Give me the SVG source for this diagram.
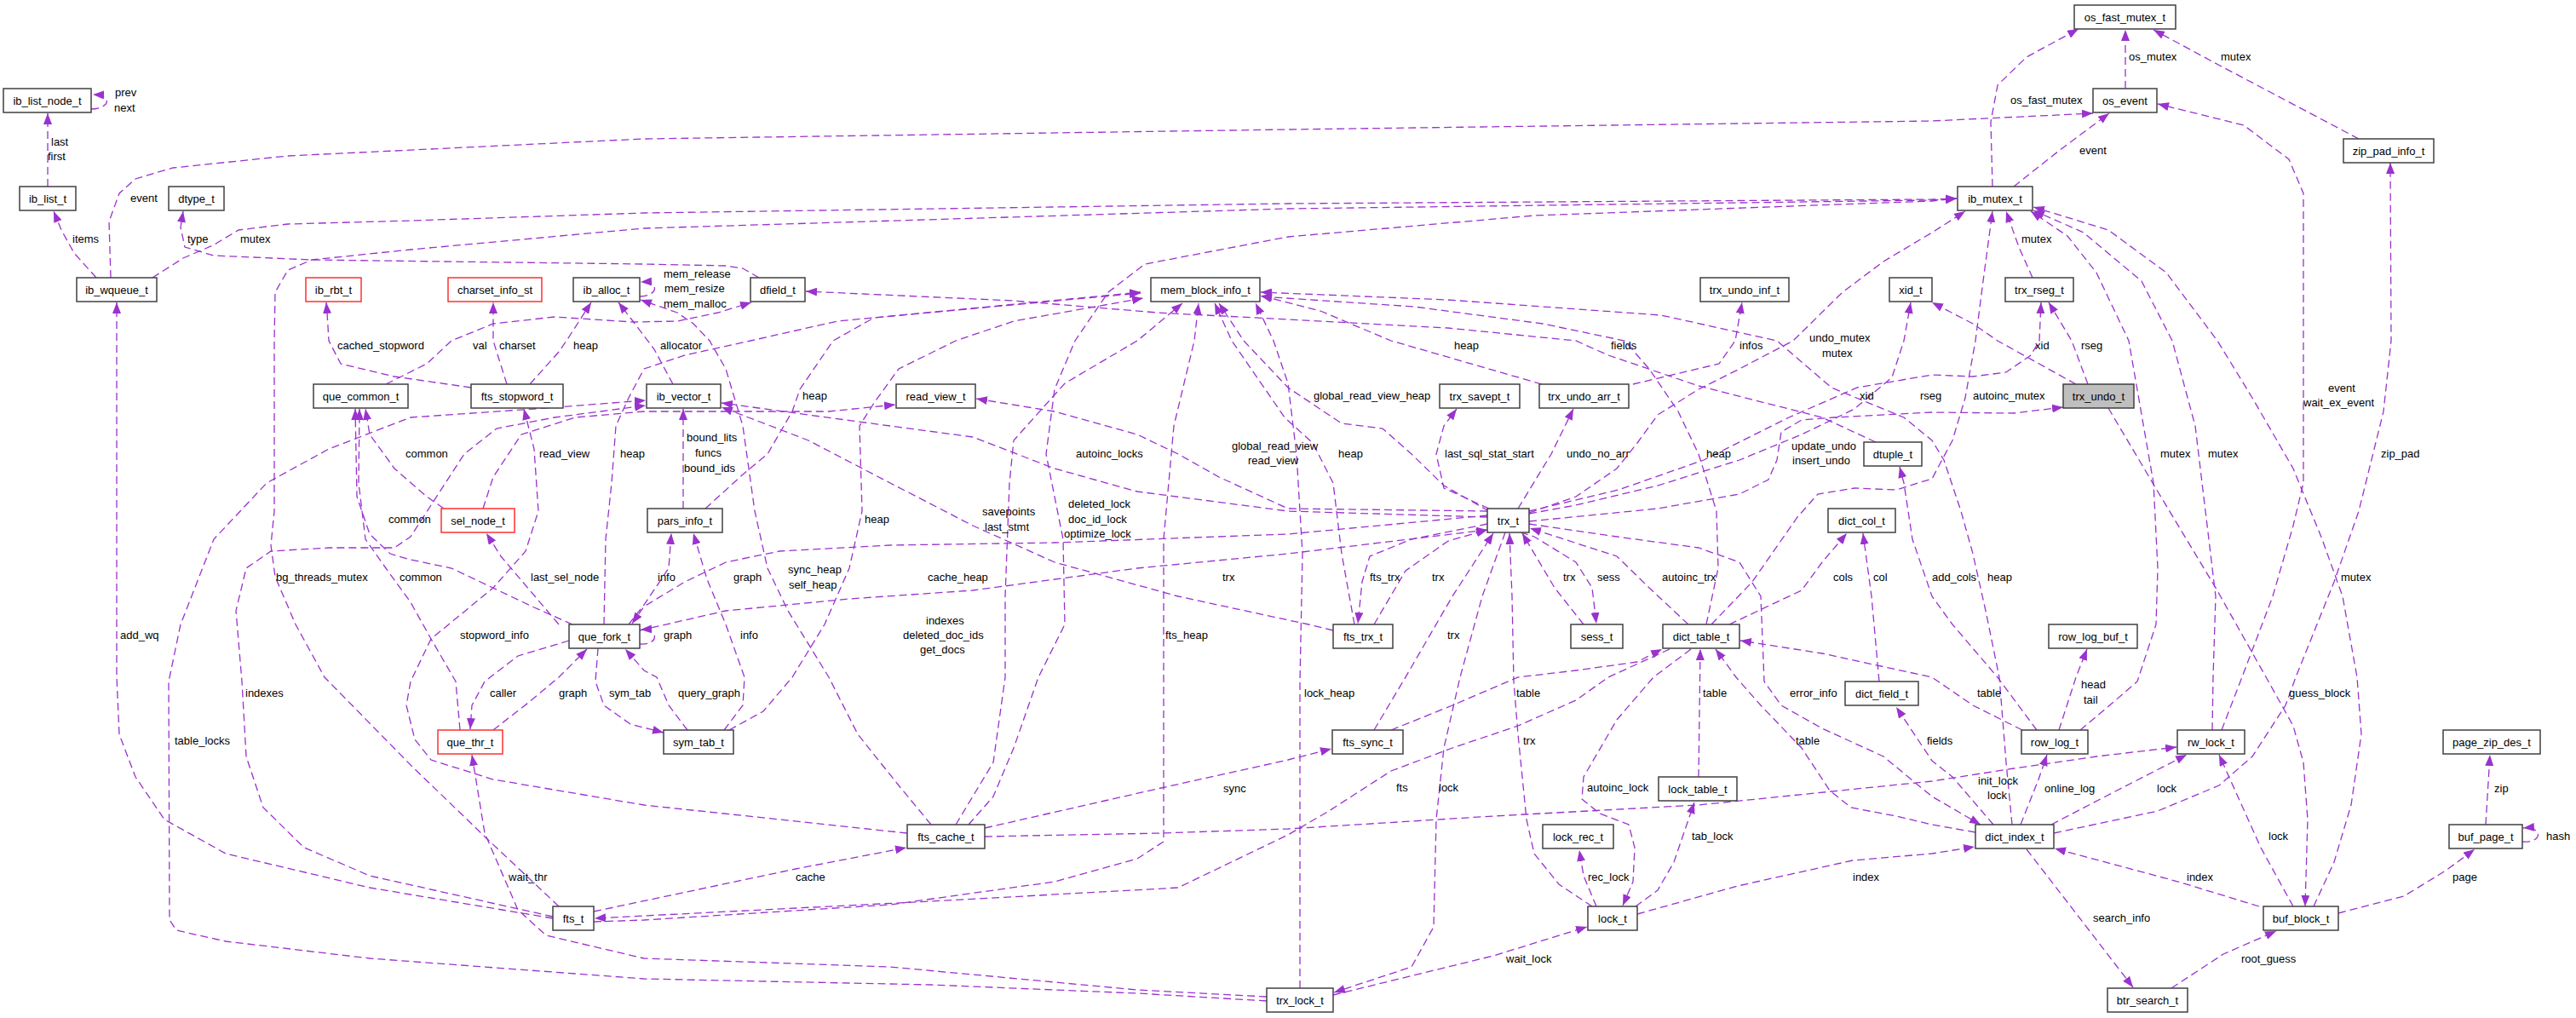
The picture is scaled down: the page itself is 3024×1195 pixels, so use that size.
<svg xmlns="http://www.w3.org/2000/svg" width="3024" height="1195" viewBox="0 0 3024 1195">
<style>
.n rect{fill:#fff;stroke:#404040;stroke-width:1.5}
.r rect{stroke:#ff3030}
.g rect{fill:#bfbfbf}
text{font-family:"Liberation Sans",Arial,sans-serif;font-size:13px;fill:#000}
.n text{text-anchor:middle}
.e{fill:none;stroke:#9a32cd;stroke-width:1.3;stroke-dasharray:9,5;marker-end:url(#a)}
</style>
<defs>
<marker id="a" markerUnits="userSpaceOnUse" markerWidth="14" markerHeight="10" refX="13" refY="5" orient="auto"><path d="M0,0 L13,5 L0,10 z" fill="#9a32cd"/></marker>
</defs>
<rect width="3024" height="1195" fill="#fff"/>
<g id="connectors">
<path class="e" d="M107,128 C128,128 134,112 109,111"/>
<path class="e" d="M56,219 L56,133"/>
<path class="e" d="M113,326 L87,297 L72,270 L63,248"/>
<path class="e" d="M130,326 L128,260 L140,227 L159,210 L203,197 L338,183 L756,163 L1512,152 L2268,142 L2457,133"/>
<path class="e" d="M179,326 L215,303 L250,288 L280,270 L338,263 L482,259 L756,250 L1512,239 L2268,234 L2297,233"/>
<path class="e" d="M656,1064 L569,982 L482,898 L381,795 L347,733 L323,677 L318,640 L322,600 L322,400 L323,343 L338,317 L366,305 L482,293 L756,268 L1512,245 L2268,235 L2297,233"/>
<path class="e" d="M1137,968 L1166,935 L1190,878 L1219,795 L1250,733 L1248,633 L1228,533 L1238,457 L1262,400 L1301,343 L1344,310 L1512,278 L1801,253 L2268,236 L2297,233"/>
<path class="e" d="M891,326 L872,315 L852,312 L756,310 L366,305 L251,300 L217,290 L212,267 L215,248"/>
<path class="e" d="M751,348 C772,348 776,330 752,331"/>
<path class="e" d="M453,451 L501,427 L530,400 L579,380 L651,372 L743,378 L795,377 L843,367 L882,355"/>
<path class="e" d="M553,455 L463,442 L400,427 L386,400 L384,367 L383,355"/>
<path class="e" d="M595,451 L579,400 L579,355"/>
<path class="e" d="M622,451 L656,413 L665,400 L694,355"/>
<path class="e" d="M790,451 L768,410 L743,377 L726,355"/>
<path class="e" d="M1093,968 L1055,922 L1007,862 L973,795 L925,717 L901,667 L886,600 L872,500 L852,433 L833,400 L814,380 L795,367 L752,352"/>
<path class="e" d="M2339,219 L2337,143 L2345,100 L2379,67 L2440,34"/>
<path class="e" d="M2495,104 L2495,35"/>
<path class="e" d="M2769,163 L2606,77 L2528,35"/>
<path class="e" d="M2364,219 L2417,177 L2476,133"/>
<path class="e" d="M2608,857 L2630,800 L2668,700 L2692,617 L2704,567 L2704,227 L2687,187 L2634,147 L2533,122"/>
<path class="e" d="M2597,857 L2598,795 L2601,700 L2577,500 L2550,400 L2514,330 L2446,273 L2387,247"/>
<path class="e" d="M2442,857 L2480,825 L2509,800 L2531,733 L2533,667 L2528,567 L2499,400 L2461,320 L2427,277 L2384,248"/>
<path class="e" d="M2716,1064 L2740,1012 L2760,945 L2772,862 L2767,795 L2750,700 L2726,633 L2692,550 L2644,467 L2603,400 L2543,320 L2475,270 L2387,243"/>
<path class="e" d="M2475,479 L2533,577 L2601,690 L2663,800 L2692,852 L2704,895 L2709,962 L2706,1064"/>
<path class="e" d="M2411,978 L2533,952 L2605,922 L2644,888 L2683,828 L2695,795 L2740,683 L2769,600 L2798,483 L2807,400 L2806,191"/>
<path class="e" d="M2386,326 L2370,290 L2355,248"/>
<path class="e" d="M2451,451 L2432,400 L2405,355"/>
<path class="e" d="M2437,451 L2345,400 L2316,380 L2268,355"/>
<path class="e" d="M1795,603 L1850,593 L1946,570 L2042,540 L2115,510 L2177,480 L2221,443 L2235,400 L2243,355"/>
<path class="e" d="M1795,600 L1900,575 L2000,540 L2100,490 L2180,455 L2268,440 L2316,442 L2355,437 L2384,417 L2394,400 L2396,355"/>
<path class="e" d="M1795,612 L1946,597 L2042,580 L2076,563 L2086,540 L2091,507 L2115,493 L2153,490 L2268,484 L2364,485 L2422,478"/>
<path class="e" d="M1795,602 L1850,583 L1898,550 L1922,520 L1946,487 L1994,457 L2042,433 L2105,400 L2163,343 L2211,307 L2268,273 L2307,248"/>
<path class="e" d="M2009,733 L2057,683 L2110,607 L2134,580 L2177,573 L2226,575 L2268,562 L2292,517 L2307,467 L2319,400 L2328,330 L2339,248"/>
<path class="e" d="M2003,733 L2017,667 L2015,600 L1994,533 L1970,483 L1936,433 L1907,400 L1811,380 L1660,360 L1480,348"/>
<path class="e" d="M2362,968 L2355,895 L2347,795 L2331,717 L2316,650 L2302,600 L2282,540 L2268,517 L2235,490 L2150,455 L2086,400 L1950,370 L1700,352 L1480,343"/>
<path class="e" d="M2202,519 L2139,490 L1994,453 L1888,417 L1850,400 L1700,385 L1512,375 L1359,367 L1190,353 L946,342"/>
<path class="e" d="M1917,451 L2018,427 L2037,400 L2045,355"/>
<path class="e" d="M1810,451 L1633,400 L1550,365 L1480,347"/>
<path class="e" d="M1748,597 L1695,573 L1686,533 L1695,500 L1710,480"/>
<path class="e" d="M1782,597 L1821,533 L1847,480"/>
<path class="e" d="M1748,600 L1695,570 L1657,533 L1623,503 L1575,497 L1512,455 L1460,400 L1431,356"/>
<path class="e" d="M1590,733 L1575,650 L1565,567 L1541,520 L1508,490 L1446,400 L1426,356"/>
<path class="e" d="M1746,615 L1657,633 L1608,653 L1599,683 L1594,732"/>
<path class="e" d="M1613,733 L1650,670 L1700,635 L1746,622"/>
<path class="e" d="M1565,740 L1536,733 L1383,700 L1238,660 L1142,617 L1045,567 L949,517 L847,478"/>
<path class="e" d="M1746,607 L1512,600 L1335,577 L1238,550 L1142,513 L1045,500 L949,487 L847,473"/>
<path class="e" d="M1746,600 L1512,597 L1431,560 L1383,533 L1335,510 L1238,483 L1146,468"/>
<path class="e" d="M1746,605 L1512,627 L1238,637 L1045,640 L915,647 L852,660 L804,683 L756,712 L742,732"/>
<path class="e" d="M751,740 L852,717 L997,703 L1142,693 L1335,667 L1512,650 L1746,622"/>
<path class="e" d="M751,756 C773,758 775,738 752,739"/>
<path class="e" d="M672,733 L627,713 L530,667 L482,657 L458,650 L434,627 L419,583 L417,480"/>
<path class="e" d="M540,857 L535,800 L506,750 L482,707 L453,667 L429,633 L421,567 L422,480"/>
<path class="e" d="M521,597 L501,583 L463,550 L434,510 L429,480"/>
<path class="e" d="M668,752 L608,770 L569,800 L554,828 L552,856"/>
<path class="e" d="M579,857 L620,825 L656,795 L689,762"/>
<path class="e" d="M702,761 L699,800 L709,828 L740,850 L779,860"/>
<path class="e" d="M807,857 L785,828 L771,795 L756,787 L734,762"/>
<path class="e" d="M850,857 L872,828 L874,795 L852,733 L830,680 L814,626"/>
<path class="e" d="M738,733 L756,710 L785,667 L788,626"/>
<path class="e" d="M802,597 L802,480"/>
<path class="e" d="M828,597 L872,557 L901,533 L930,483 L939,457 L978,400 L1026,373 L1339,344"/>
<path class="e" d="M856,857 L896,835 L930,795 L968,733 L997,667 L1012,600 L1009,500 L1026,473 L1055,433 L1122,400 L1190,377 L1342,350"/>
<path class="e" d="M709,733 L711,633 L718,567 L723,500 L738,467 L756,433 L804,417 L881,400 L983,377 L1339,343"/>
<path class="e" d="M656,733 L622,693 L588,653 L571,626"/>
<path class="e" d="M567,597 L579,560 L612,510 L675,490 L756,483 L852,483 L973,483 L1051,475"/>
<path class="e" d="M649,1076 L434,1028 L357,995 L309,948 L289,888 L284,800 L277,717 L289,667 L318,647 L386,643 L463,643 L482,630 L506,593 L545,533 L583,503 L651,490 L758,476"/>
<path class="e" d="M1487,1175 L1335,1166 L1093,1156 L756,1149 L434,1125 L265,1105 L207,1092 L199,1080 L198,800 L212,733 L251,633 L313,567 L386,527 L482,490 L627,480 L758,470"/>
<path class="e" d="M1487,1170 L1335,1162 L1045,1135 L756,1125 L641,1098 L608,1068 L569,978 L554,886"/>
<path class="e" d="M649,1078 L434,1042 L265,1002 L193,962 L159,912 L140,862 L137,795 L137,355"/>
<path class="e" d="M697,1070 L934,1020 L1064,995"/>
<path class="e" d="M697,1082 L756,1080 L1045,1062 L1238,1035 L1335,1008 L1366,988 L1366,795 L1366,633 L1378,500 L1402,400 L1407,356"/>
<path class="e" d="M1960,762 L1888,795 L1850,822 L1782,852 L1705,878 L1633,905 L1560,952 L1512,980 L1383,1042 L1093,1058 L698,1078"/>
<path class="e" d="M1065,978 L756,945 L579,915 L506,892 L487,868 L477,828 L482,800 L506,750 L579,690 L617,647 L632,600 L627,527 L615,480"/>
<path class="e" d="M1156,972 L1363,925 L1512,892 L1563,879"/>
<path class="e" d="M1156,982 L1363,978 L1512,973 L1753,958 L1994,945 L2268,917 L2364,902 L2461,888 L2555,877"/>
<path class="e" d="M1122,968 L1166,895 L1180,795 L1180,700 L1185,567 L1190,517 L1250,450 L1335,400 L1388,356"/>
<path class="e" d="M1633,857 L1705,828 L1782,795 L1850,787 L1922,777 L1951,762"/>
<path class="e" d="M1613,857 L1647,800 L1705,700 L1753,626"/>
<path class="e" d="M1767,625 L1740,700 L1714,795 L1695,878 L1686,962 L1683,1088 L1657,1135 L1566,1165"/>
<path class="e" d="M1869,1064 L1830,1038 L1801,1002 L1792,962 L1782,862 L1777,800 L1775,700 L1772,626"/>
<path class="e" d="M1565,1168 L1753,1122 L1863,1088"/>
<path class="e" d="M1874,1064 L1859,1028 L1854,998"/>
<path class="e" d="M1920,1064 L1946,1045 L1965,1012 L1989,942"/>
<path class="e" d="M1985,762 L1941,795 L1898,845 L1859,912 L1857,938 L1878,955 L1912,968 L1919,995 L1917,1035 L1905,1063"/>
<path class="e" d="M1922,1073 L2040,1040 L2175,1010 L2268,1002 L2318,994"/>
<path class="e" d="M1994,912 L1996,762"/>
<path class="e" d="M2319,977 L2268,968 L2226,958 L2173,948 L2148,928 L2115,878 L2067,828 L2038,795 L2014,762"/>
<path class="e" d="M2374,857 L2316,828 L2268,795 L2139,767 L2043,752"/>
<path class="e" d="M1795,615 L1898,630 L1994,643 L2042,660 L2067,700 L2071,800 L2091,828 L2139,855 L2211,888 L2268,935 L2325,968"/>
<path class="e" d="M1982,733 L1936,690 L1898,653 L1796,620"/>
<path class="e" d="M1785,625 L1801,630 L1850,660 L1869,690 L1874,732"/>
<path class="e" d="M1859,733 L1825,690 L1787,626"/>
<path class="e" d="M2030,733 L2115,693 L2139,660 L2168,626"/>
<path class="e" d="M2206,800 L2197,700 L2187,626"/>
<path class="e" d="M2340,968 L2292,912 L2268,893 L2226,830"/>
<path class="e" d="M2372,968 L2393,915 L2403,886"/>
<path class="e" d="M2408,968 L2485,928 L2567,886"/>
<path class="e" d="M2692,1064 L2654,995 L2605,886"/>
<path class="e" d="M2652,1064 L2557,1035 L2412,996"/>
<path class="e" d="M2745,1072 L2822,1052 L2871,1022 L2905,997"/>
<path class="e" d="M2961,988 C2985,990 2986,970 2962,972"/>
<path class="e" d="M2918,968 L2923,886"/>
<path class="e" d="M2549,1160 L2610,1120 L2672,1093"/>
<path class="e" d="M2379,997 L2437,1072 L2504,1159"/>
<path class="e" d="M2417,857 L2437,795 L2450,762"/>
<path class="e" d="M2391,857 L2345,795 L2292,733 L2268,700 L2245,633 L2235,567 L2230,548"/>
<path class="e" d="M1526,1160 L1526,800 L1529,650 L1522,533 L1512,450 L1495,400 L1474,356"/>
<g id="edge-labels">
<text x="135" y="113">prev</text>
<text x="134" y="131">next</text>
<text x="60" y="171">last</text>
<text x="56" y="188">first</text>
<text x="153" y="237">event</text>
<text x="85" y="285">items</text>
<text x="220" y="285">type</text>
<text x="282" y="285">mutex</text>
<text x="779" y="326">mem_release</text>
<text x="780" y="343">mem_resize</text>
<text x="779" y="361">mem_malloc</text>
<text x="2124" y="401">undo_mutex</text>
<text x="2139" y="419">mutex</text>
<text x="2499" y="71">os_mutex</text>
<text x="2607" y="71">mutex</text>
<text x="2360" y="122">os_fast_mutex</text>
<text x="2441" y="181">event</text>
<text x="2373" y="285">mutex</text>
<text x="396" y="410">cached_stopword</text>
<text x="555" y="410">val</text>
<text x="586" y="410">charset</text>
<text x="673" y="410">heap</text>
<text x="476" y="537">common</text>
<text x="633" y="537">read_view</text>
<text x="728" y="537">heap</text>
<text x="456" y="614">common</text>
<text x="324" y="682">bg_threads_mutex</text>
<text x="469" y="682">common</text>
<text x="623" y="682">last_sel_node</text>
<text x="141" y="750">add_wq</text>
<text x="540" y="750">stopword_info</text>
<text x="775" y="410">allocator</text>
<text x="942" y="469">heap</text>
<text x="806" y="518">bound_lits</text>
<text x="816" y="536">funcs</text>
<text x="803" y="554">bound_ids</text>
<text x="1263" y="537">autoinc_locks</text>
<text x="1446" y="528">global_read_view</text>
<text x="1465" y="545">read_view</text>
<text x="1015" y="614">heap</text>
<text x="1153" y="605">savepoints</text>
<text x="1156" y="623">last_stmt</text>
<text x="1254" y="596">deleted_lock</text>
<text x="1254" y="614">doc_id_lock</text>
<text x="1249" y="631">optimize_lock</text>
<text x="772" y="682">info</text>
<text x="861" y="682">graph</text>
<text x="925" y="673">sync_heap</text>
<text x="926" y="691">self_heap</text>
<text x="1089" y="682">cache_heap</text>
<text x="1435" y="682">trx</text>
<text x="779" y="750">graph</text>
<text x="869" y="750">info</text>
<text x="1087" y="733">indexes</text>
<text x="1060" y="750">deleted_doc_ids</text>
<text x="1080" y="767">get_docs</text>
<text x="1368" y="750">fts_heap</text>
<text x="1707" y="410">heap</text>
<text x="1891" y="410">fields</text>
<text x="2042" y="410">infos</text>
<text x="1542" y="469">global_read_view_heap</text>
<text x="2183" y="469">xid</text>
<text x="2254" y="469">rseg</text>
<text x="1571" y="537">heap</text>
<text x="1696" y="537">last_sql_stat_start</text>
<text x="1839" y="537">undo_no_arr</text>
<text x="2003" y="537">heap</text>
<text x="2103" y="528">update_undo</text>
<text x="2104" y="545">insert_undo</text>
<text x="1608" y="682">fts_trx</text>
<text x="1681" y="682">trx</text>
<text x="1835" y="682">trx</text>
<text x="1875" y="682">sess</text>
<text x="1951" y="682">autoinc_trx</text>
<text x="2152" y="682">cols</text>
<text x="2199" y="682">col</text>
<text x="1699" y="750">trx</text>
<text x="2389" y="410">xid</text>
<text x="2443" y="410">rseg</text>
<text x="2316" y="469">autoinc_mutex</text>
<text x="2733" y="460">event</text>
<text x="2704" y="477">wait_ex_event</text>
<text x="2536" y="537">mutex</text>
<text x="2592" y="537">mutex</text>
<text x="2795" y="537">zip_pad</text>
<text x="2268" y="682">add_cols</text>
<text x="2333" y="682">heap</text>
<text x="2748" y="682">mutex</text>
<text x="288" y="818">indexes</text>
<text x="575" y="818">caller</text>
<text x="656" y="818">graph</text>
<text x="715" y="818">sym_tab</text>
<text x="205" y="874">table_locks</text>
<text x="597" y="1034">wait_thr</text>
<text x="796" y="818">query_graph</text>
<text x="1436" y="930">sync</text>
<text x="934" y="1034">cache</text>
<text x="1531" y="818">lock_heap</text>
<text x="1780" y="818">table</text>
<text x="1999" y="818">table</text>
<text x="2101" y="818">error_info</text>
<text x="1788" y="874">trx</text>
<text x="2108" y="874">table</text>
<text x="1639" y="929">fts</text>
<text x="1689" y="929">lock</text>
<text x="1863" y="929">autoinc_lock</text>
<text x="1986" y="986">tab_lock</text>
<text x="1864" y="1034">rec_lock</text>
<text x="2175" y="1034">index</text>
<text x="1768" y="1130">wait_lock</text>
<text x="2321" y="818">table</text>
<text x="2443" y="808">head</text>
<text x="2446" y="826">tail</text>
<text x="2262" y="874">fields</text>
<text x="2322" y="921">init_lock</text>
<text x="2333" y="938">lock</text>
<text x="2400" y="930">online_log</text>
<text x="2532" y="930">lock</text>
<text x="2687" y="818">guess_block</text>
<text x="2928" y="930">zip</text>
<text x="2663" y="986">lock</text>
<text x="2989" y="986">hash</text>
<text x="2567" y="1034">index</text>
<text x="2879" y="1034">page</text>
<text x="2457" y="1082">search_info</text>
<text x="2631" y="1130">root_guess</text>
</g>
</g>
<g id="n_ib_list_node_t" class="n"><rect x="4" y="104" width="103" height="28"/><text x="55.5" y="123">ib_list_node_t</text></g>
<g id="n_ib_list_t" class="n"><rect x="23" y="219" width="66" height="28"/><text x="56" y="238">ib_list_t</text></g>
<g id="n_dtype_t" class="n"><rect x="198" y="219" width="65" height="28"/><text x="230.5" y="238">dtype_t</text></g>
<g id="n_ib_wqueue_t" class="n"><rect x="90" y="326" width="94" height="28"/><text x="137" y="345">ib_wqueue_t</text></g>
<g id="n_ib_rbt_t" class="n r"><rect x="359" y="326" width="65" height="28"/><text x="391.5" y="345">ib_rbt_t</text></g>
<g id="n_charset_info_st" class="n r"><rect x="526" y="326" width="110" height="28"/><text x="581" y="345">charset_info_st</text></g>
<g id="n_ib_alloc_t" class="n"><rect x="673" y="326" width="78" height="28"/><text x="712" y="345">ib_alloc_t</text></g>
<g id="n_dfield_t" class="n"><rect x="881" y="326" width="64" height="28"/><text x="913" y="345">dfield_t</text></g>
<g id="n_mem_block_info_t" class="n"><rect x="1351" y="326" width="128" height="28"/><text x="1415" y="345">mem_block_info_t</text></g>
<g id="n_trx_undo_inf_t" class="n"><rect x="1996" y="326" width="104" height="28"/><text x="2048" y="345">trx_undo_inf_t</text></g>
<g id="n_xid_t" class="n"><rect x="2218" y="326" width="50" height="28"/><text x="2243" y="345">xid_t</text></g>
<g id="n_os_fast_mutex_t" class="n"><rect x="2435" y="6" width="119" height="28"/><text x="2494.5" y="25">os_fast_mutex_t</text></g>
<g id="n_os_event" class="n"><rect x="2457" y="104" width="75" height="28"/><text x="2494.5" y="123">os_event</text></g>
<g id="n_zip_pad_info_t" class="n"><rect x="2751" y="163" width="106" height="28"/><text x="2804" y="182">zip_pad_info_t</text></g>
<g id="n_ib_mutex_t" class="n"><rect x="2298" y="219" width="88" height="28"/><text x="2342" y="238">ib_mutex_t</text></g>
<g id="n_trx_rseg_t" class="n"><rect x="2354" y="326" width="80" height="28"/><text x="2394" y="345">trx_rseg_t</text></g>
<g id="n_que_common_t" class="n"><rect x="368" y="451" width="111" height="28"/><text x="423.5" y="470">que_common_t</text></g>
<g id="n_fts_stopword_t" class="n"><rect x="553" y="451" width="108" height="28"/><text x="607" y="470">fts_stopword_t</text></g>
<g id="n_ib_vector_t" class="n"><rect x="759" y="451" width="87" height="28"/><text x="802.5" y="470">ib_vector_t</text></g>
<g id="n_read_view_t" class="n"><rect x="1052" y="451" width="93" height="28"/><text x="1098.5" y="470">read_view_t</text></g>
<g id="n_trx_savept_t" class="n"><rect x="1690" y="451" width="94" height="28"/><text x="1737" y="470">trx_savept_t</text></g>
<g id="n_trx_undo_arr_t" class="n"><rect x="1807" y="451" width="105" height="28"/><text x="1859.5" y="470">trx_undo_arr_t</text></g>
<g id="n_trx_undo_t" class="n g"><rect x="2422" y="451" width="83" height="28"/><text x="2463.5" y="470">trx_undo_t</text></g>
<g id="n_dtuple_t" class="n"><rect x="2188" y="519" width="68" height="28"/><text x="2222" y="538">dtuple_t</text></g>
<g id="n_sel_node_t" class="n r"><rect x="518" y="597" width="86" height="28"/><text x="561" y="616">sel_node_t</text></g>
<g id="n_pars_info_t" class="n"><rect x="760" y="597" width="88" height="28"/><text x="804" y="616">pars_info_t</text></g>
<g id="n_trx_t" class="n"><rect x="1746" y="597" width="49" height="28"/><text x="1770.5" y="616">trx_t</text></g>
<g id="n_dict_col_t" class="n"><rect x="2146" y="597" width="79" height="28"/><text x="2185.5" y="616">dict_col_t</text></g>
<g id="n_que_fork_t" class="n"><rect x="668" y="733" width="83" height="28"/><text x="709.5" y="752">que_fork_t</text></g>
<g id="n_fts_trx_t" class="n"><rect x="1565" y="733" width="70" height="28"/><text x="1600" y="752">fts_trx_t</text></g>
<g id="n_sess_t" class="n"><rect x="1844" y="733" width="61" height="28"/><text x="1874.5" y="752">sess_t</text></g>
<g id="n_dict_table_t" class="n"><rect x="1952" y="733" width="90" height="28"/><text x="1997" y="752">dict_table_t</text></g>
<g id="n_row_log_buf_t" class="n"><rect x="2405" y="733" width="104" height="28"/><text x="2457" y="752">row_log_buf_t</text></g>
<g id="n_dict_field_t" class="n"><rect x="2166" y="800" width="86" height="28"/><text x="2209" y="819">dict_field_t</text></g>
<g id="n_que_thr_t" class="n r"><rect x="514" y="857" width="76" height="28"/><text x="552" y="876">que_thr_t</text></g>
<g id="n_sym_tab_t" class="n"><rect x="779" y="857" width="82" height="28"/><text x="820" y="876">sym_tab_t</text></g>
<g id="n_fts_sync_t" class="n"><rect x="1564" y="857" width="83" height="28"/><text x="1605.5" y="876">fts_sync_t</text></g>
<g id="n_row_log_t" class="n"><rect x="2373" y="857" width="78" height="28"/><text x="2412" y="876">row_log_t</text></g>
<g id="n_rw_lock_t" class="n"><rect x="2556" y="857" width="79" height="28"/><text x="2595.5" y="876">rw_lock_t</text></g>
<g id="n_page_zip_des_t" class="n"><rect x="2868" y="857" width="114" height="28"/><text x="2925" y="876">page_zip_des_t</text></g>
<g id="n_lock_table_t" class="n"><rect x="1947" y="912" width="92" height="28"/><text x="1993" y="931">lock_table_t</text></g>
<g id="n_fts_cache_t" class="n"><rect x="1065" y="968" width="91" height="28"/><text x="1110.5" y="987">fts_cache_t</text></g>
<g id="n_lock_rec_t" class="n"><rect x="1811" y="968" width="83" height="28"/><text x="1852.5" y="987">lock_rec_t</text></g>
<g id="n_dict_index_t" class="n"><rect x="2319" y="968" width="92" height="28"/><text x="2365" y="987">dict_index_t</text></g>
<g id="n_buf_page_t" class="n"><rect x="2875" y="968" width="86" height="28"/><text x="2918" y="987">buf_page_t</text></g>
<g id="n_fts_t" class="n"><rect x="649" y="1064" width="48" height="28"/><text x="673" y="1083">fts_t</text></g>
<g id="n_lock_t" class="n"><rect x="1864" y="1064" width="58" height="28"/><text x="1893" y="1083">lock_t</text></g>
<g id="n_buf_block_t" class="n"><rect x="2657" y="1064" width="88" height="28"/><text x="2701" y="1083">buf_block_t</text></g>
<g id="n_trx_lock_t" class="n"><rect x="1487" y="1160" width="78" height="28"/><text x="1526" y="1179">trx_lock_t</text></g>
<g id="n_btr_search_t" class="n"><rect x="2474" y="1160" width="94" height="28"/><text x="2521" y="1179">btr_search_t</text></g>
</svg>
